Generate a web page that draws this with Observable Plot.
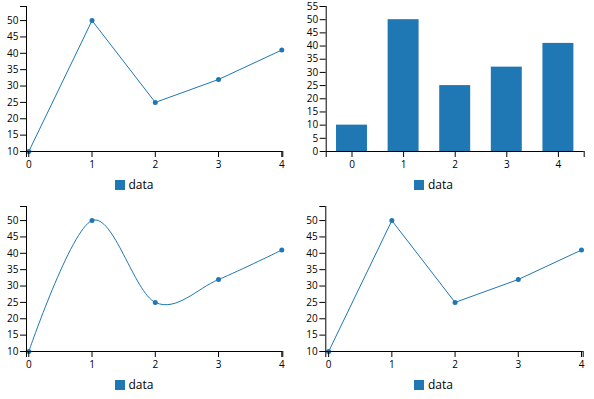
<!DOCTYPE html>
<html>
<head>
<meta charset="utf-8">
<script src="https://cdn.jsdelivr.net/npm/d3@7"></script>
<script src="https://cdn.jsdelivr.net/npm/@observablehq/plot@0.6"></script>
<style>
  html, body { margin: 0; padding: 0; background: #fff; }
  #root { position: relative; width: 594px; height: 399px; overflow: hidden; font-family: "Open Sans", sans-serif; }
  .panel { position: absolute; width: 297px; height: 200px; }
  .panel svg { position: absolute; left: 0; top: 0; overflow: visible; }
  .legend { position: absolute; top: 180px; height: 10px; display: flex; align-items: center; font-size: 12px; color: #000; }
  .legend .sw { width: 10px; height: 10px; background: #1f77b4; margin-right: 4px; }
  .legend span { line-height: 10px; position: relative; top: -0.5px; }
</style>
</head>
<body>
<div id="root"></div>
<script>
// ---- data ----
const categories = [0, 1, 2, 3, 4];
const values = [10, 50, 25, 32, 41];
const seriesName = "data";
const lineYTicks = [10, 15, 20, 25, 30, 35, 40, 45, 50];
const barYTicks = [0, 5, 10, 15, 20, 25, 30, 35, 40, 45, 50, 55];

const rows = categories.map((c, i) => ({x: c, y: values[i]}));
const color = "#1f77b4";

const panels = [
  {kind: "line", left: 0, top: 0, ml: 26, mr: 14.7, xDomain: [-0.036, 4.016], yDomain: [10, 54.3], yTicks: lineYTicks, curve: "linear", legendX: 114.5},
  {kind: "bar", left: 297, top: 0, ml: 28.7, mr: 10.3, xDomain: [-0.5, 4.5], yDomain: [0, 55], yTicks: barYTicks, legendX: 117},
  {kind: "line", left: 0, top: 200, ml: 26, mr: 14.7, xDomain: [-0.036, 4.016], yDomain: [10, 54.3], yTicks: lineYTicks, curve: "cardinal", legendX: 114.5},
  {kind: "line", left: 297, top: 200, ml: 28.3, mr: 11.3, xDomain: [-0.045, 4.027], yDomain: [10, 54.3], yTicks: lineYTicks, curve: "linear", legendX: 117}
];

const root = document.getElementById("root");

for (const p of panels) {
  const div = document.createElement("div");
  div.className = "panel";
  div.style.left = p.left + "px";
  div.style.top = p.top + "px";

  const marks = [];
  if (p.kind === "bar") {
    marks.push(Plot.rectY(rows, {x1: d => d.x - 0.3, x2: d => d.x + 0.3, y1: 0, y2: "y", fill: color}));
  } else {
    marks.push(Plot.line(rows, {x: "x", y: "y", stroke: color, strokeWidth: 1, curve: p.curve, clip: true}));
    marks.push(Plot.dot(rows, {x: "x", y: "y", r: 2.5, fill: color, stroke: "none"}));
  }
  // axes lines
  marks.push(Plot.ruleY([p.yDomain[0]], {stroke: "#000", strokeWidth: 1}));
  marks.push(Plot.ruleX([p.xDomain[0]], {stroke: "#000", strokeWidth: 1}));
  // x ticks and outer ticks
  marks.push(Plot.axisX({ticks: categories, tickSize: 6, tickPadding: 3, tickFormat: d => String(d), stroke: "#000", strokeOpacity: 1, label: null}));
  marks.push(Plot.axisX({ticks: p.xDomain, tickSize: 6, tickFormat: () => "", stroke: "#000", strokeOpacity: 1, label: null}));
  // y ticks and outer tick
  marks.push(Plot.axisY({ticks: p.yTicks, tickSize: 6, tickPadding: 2, stroke: "#000", strokeOpacity: 1, label: null}));
  marks.push(Plot.axisY({ticks: [p.yDomain[1]], tickSize: 6, tickFormat: () => "", stroke: "#000", strokeOpacity: 1, label: null}));

  const svg = Plot.plot({
    width: 297,
    height: 172,
    marginTop: 6,
    marginBottom: 21,
    marginLeft: p.ml,
    marginRight: p.mr,
    x: {type: "linear", domain: p.xDomain, label: null},
    y: {type: "linear", domain: p.yDomain, label: null},
    style: {fontFamily: "'Open Sans', sans-serif", fontSize: "10px", color: "#000", background: "transparent", overflow: "visible"},
    marks
  });
  div.appendChild(svg);

  const leg = document.createElement("div");
  leg.className = "legend";
  leg.style.left = p.legendX + "px";
  leg.innerHTML = `<div class="sw"></div><span>${seriesName}</span>`;
  div.appendChild(leg);

  root.appendChild(div);
}
</script>
</body>
</html>
